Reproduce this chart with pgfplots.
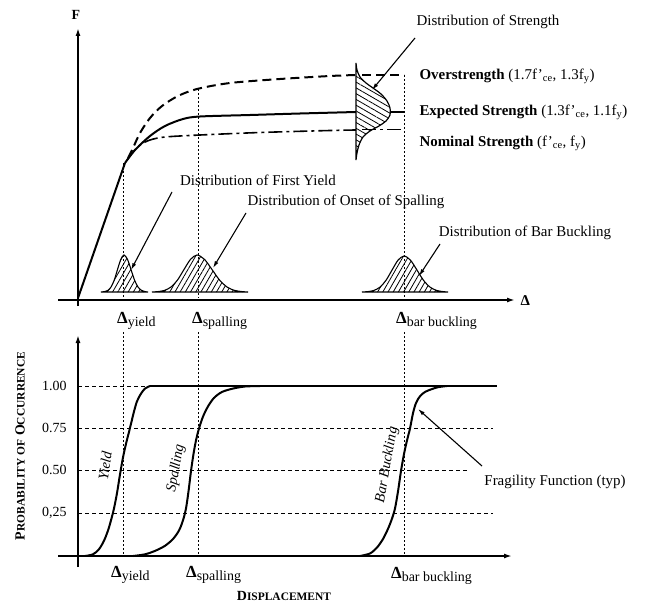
\documentclass[border=0pt]{standalone}
\usepackage{pgfplots}
\usepackage{pgfplotstable}
\pgfplotsset{compat=1.18}
\usepackage{fontspec}
\setmainfont{Liberation Serif}
\usetikzlibrary{arrows.meta,patterns.meta}

\newcommand\dlab[1]{\textbf{\fontsize{17}{17}\selectfont Δ}\raisebox{-0.45ex}{\fontsize{14}{14}\selectfont #1}}
\newcommand\scp[2]{{\fontsize{14}{14}\selectfont #1}{\fontsize{11.5}{11.5}\selectfont #2}}

% fragility curves: x in drawing units, p = probability
\pgfplotstableread{
x p
85 0
93 0.01
99 0.04
104 0.09
108 0.15
111 0.21
114 0.28
117 0.37
120 0.48
123 0.58
126 0.66
129 0.73
131.5 0.79
134 0.85
137 0.91
141 0.955
145 0.985
150 1
}\yieldcurve
\pgfplotstableread{
x p
133 0
145 0.01
155 0.03
165 0.06
173 0.1
179 0.15
183 0.21
186 0.28
188.5 0.38
191 0.5
193.5 0.6
196 0.68
199 0.75
203 0.82
208 0.88
214 0.93
222 0.965
233 0.985
245 0.997
260 1
}\spallcurve
\pgfplotstableread{
x p
360 0
370 0.015
377 0.05
383 0.1
388 0.16
392 0.22
395 0.28
398 0.38
401 0.5
404 0.6
407 0.68
410 0.75
413 0.84
416 0.9
420 0.94
425 0.965
431 0.98
438 0.993
447 1
}\buckcurve

\begin{document}
\begin{tikzpicture}[font=\fontsize{15}{18}\selectfont]
\begin{axis}[
  scale only axis, width=647bp, height=604bp,
  xmin=0, xmax=647, ymin=0, ymax=604, y dir=reverse,
  hide axis, clip=false,
]
% ===== top panel: axes =====
\addplot[line width=1.6bp, -{Latex[length=8bp,width=5bp]}] coordinates {(78,306) (78,28)};
\addplot[line width=1.6bp, -{Latex[length=8bp,width=5bp]}] coordinates {(58,300) (515,300)};
\node[font=\bfseries\fontsize{14}{14}\selectfont] at (axis cs:76,15) {F};
\node[font=\bfseries\fontsize{15}{15}\selectfont, anchor=west] at (axis cs:517,301) {Δ};

% dotted vertical guides (top)
\addplot[line width=0.9bp, dash pattern=on 2bp off 2bp] coordinates {(123.5,163) (123.5,298)};
\addplot[line width=0.9bp, dash pattern=on 2bp off 2bp] coordinates {(198,89) (198,298)};
\addplot[line width=0.9bp, dash pattern=on 2bp off 2bp] coordinates {(404,75) (404,298)};

% expected strength (solid)
\addplot[line width=2bp] coordinates {(78,298) (125,163)};
\addplot[line width=2bp, smooth] coordinates {(125,163) (135,150) (150,136) (165,126) (183,119) (200,116.5) (250,115) (300,113.5) (356,112)};
\addplot[line width=2bp] coordinates {(390,112) (405,112)};
% overstrength (dashed)
\addplot[line width=2bp, dash pattern=on 9bp off 5bp, smooth] coordinates {(128,158) (133,148) (140,133) (150,118) (162,106) (178,96) (197,89) (230,83) (280,79) (330,76) (356,75)};
\addplot[line width=2bp, dash pattern=on 9bp off 5bp] coordinates {(362,75) (404,75)};
% nominal strength (dash-dot)
\addplot[line width=1.6bp, dash pattern=on 14bp off 4bp on 3bp off 4bp, smooth] coordinates {(127,160) (133,152) (140,145) (150,140) (165,137) (200,135) (260,132.5) (330,130.5) (356,130)};
\addplot[line width=1.6bp, dash pattern=on 14bp off 4bp on 3bp off 4bp] coordinates {(362,129.5) (404,129.5)};

% distribution of strength
\addplot[line width=1.2bp, smooth, pattern={Lines[angle=-30,distance=5bp,line width=0.8bp]}] coordinates {(356,63) (357,70) (360,77) (366,83) (373,88) (381,94) (387,101) (390,108) (390,115) (386,121) (379,126) (370,131) (363,137) (359,145) (357,153) (356,160)} -- cycle;

% distribution of first yield
\addplot[line width=1.1bp, smooth, pattern={Lines[angle=60,distance=4.5bp,line width=0.8bp]}] coordinates {(101,292) (104.5,291.6) (108,290.4) (111,287) (114.3,280) (117.5,269.5) (120.8,259.4) (124,255) (127.5,259.4) (131,269.5) (134.5,280) (138,287) (141.5,290.4) (145,291.6) (148,292)} -- cycle;
% distribution of onset of spalling
\addplot[line width=1.1bp, smooth, pattern={Lines[angle=60,distance=4.5bp,line width=0.8bp]}] coordinates {(152,292) (158,291.6) (164.5,290.4) (171,287) (177.5,280) (184,269.5) (190.5,259.4) (197,255) (204.5,259.4) (212,269.5) (219.5,280) (227,287) (234.5,290.4) (242,291.6) (248,292)} -- cycle;
% distribution of bar buckling
\addplot[line width=1.1bp, smooth, pattern={Lines[angle=60,distance=4.5bp,line width=0.8bp]}] coordinates {(362,292) (368,291.6) (374,290.4) (380,287.1) (386,280.3) (392,270.1) (398,260.2) (404,256) (410.5,260.2) (417,270.1) (423.5,280.3) (430,287.1) (436.5,290.4) (443,291.6) (448,292)} -- cycle;

% annotation arrows (top)
\addplot[line width=1.1bp, -{Latex[length=7bp,width=4bp]}] coordinates {(415,38) (372,90)};
\addplot[line width=1.1bp, -{Latex[length=7bp,width=4bp]}] coordinates {(172,192) (131,270)};
\addplot[line width=1.1bp, -{Latex[length=7bp,width=4bp]}] coordinates {(246,213) (213,268)};
\addplot[line width=1.1bp, -{Latex[length=7bp,width=4bp]}] coordinates {(440,244) (419,276)};

% texts (top)
\node at (axis cs:488,22) {Distribution of Strength};
\node[anchor=west] at (axis cs:416,76) {\textbf{Overstrength} (1.7f'\textsubscript{ce}, 1.3f\textsubscript{y})};
\node[anchor=west] at (axis cs:416,112) {\textbf{Expected Strength} (1.3f'\textsubscript{ce}, 1.1f\textsubscript{y})};
\node[anchor=west] at (axis cs:416,143) {\textbf{Nominal Strength} (f'\textsubscript{ce}, f\textsubscript{y})};
\node at (axis cs:258,180) {Distribution of First Yield};
\node at (axis cs:346,202) {Distribution of Onset of Spalling};
\node at (axis cs:525,233) {Distribution of Bar Buckling};

% delta labels between panels
\node[anchor=west, inner sep=0pt] at (axis cs:117,321) {\dlab{yield}};
\node[anchor=west, inner sep=0pt] at (axis cs:192,321) {\dlab{spalling}};
\node[anchor=west, inner sep=0pt] at (axis cs:396,321) {\dlab{bar buckling}};

% ===== bottom panel =====
\addplot[line width=1.6bp, -{Latex[length=8bp,width=5bp]}] coordinates {(78,567) (78,335)};
\addplot[line width=1.6bp, -{Latex[length=8bp,width=5bp]}] coordinates {(58,556) (512,556)};

% dashed probability levels
\addplot[line width=0.9bp, dash pattern=on 4bp off 3bp] coordinates {(78,386) (150,386)};
\addplot[line width=0.9bp, dash pattern=on 4bp off 3bp] coordinates {(78,428) (493,428)};
\addplot[line width=0.9bp, dash pattern=on 4bp off 3bp] coordinates {(78,470) (467,470)};
\addplot[line width=0.9bp, dash pattern=on 4bp off 3bp] coordinates {(78,513) (493,513)};
\addplot[line width=2bp] coordinates {(150,386) (497,386)};

% dotted vertical guides (bottom)
\addplot[line width=0.9bp, dash pattern=on 2bp off 2bp] coordinates {(123.5,332) (123.5,556)};
\addplot[line width=0.9bp, dash pattern=on 2bp off 2bp] coordinates {(198,332) (198,556)};
\addplot[line width=0.9bp, dash pattern=on 2bp off 2bp] coordinates {(404,332) (404,556)};

% fragility curves
\addplot[line width=2bp, smooth] table[x=x, y expr={556-170*\thisrow{p}}] {\yieldcurve};
\addplot[line width=2bp, smooth] table[x=x, y expr={556-170*\thisrow{p}}] {\spallcurve};
\addplot[line width=2bp, smooth] table[x=x, y expr={556-170*\thisrow{p}}] {\buckcurve};

% tick labels
\node[anchor=east, font=\fontsize{14}{14}\selectfont] at (axis cs:70,386) {1.00};
\node[anchor=east, font=\fontsize{14}{14}\selectfont] at (axis cs:70,428) {0.75};
\node[anchor=east, font=\fontsize{14}{14}\selectfont] at (axis cs:70,470) {0.50};
\node[anchor=east, font=\fontsize{14}{14}\selectfont] at (axis cs:70,513) {0,25};

% curve labels
\node[rotate=82, inner sep=1pt, font=\itshape\fontsize{14.5}{14.5}\selectfont] at (axis cs:105,466) {Yield};
\node[rotate=80, inner sep=1pt, font=\itshape\fontsize{14.5}{14.5}\selectfont] at (axis cs:176,468) {Spalling};
\node[rotate=80, inner sep=1pt, font=\itshape\fontsize{14.5}{14.5}\selectfont] at (axis cs:387,465) {Bar Buckling};

% fragility arrow + label
\addplot[line width=1.1bp, -{Latex[length=7bp,width=4bp]}] coordinates {(482,466) (418,409)};
\node at (axis cs:555,482) {Fragility Function (typ)};

% bottom delta labels
\node[anchor=west, inner sep=0pt] at (axis cs:111,575) {\dlab{yield}};
\node[anchor=west, inner sep=0pt] at (axis cs:186,575) {\dlab{spalling}};
\node[anchor=west, inner sep=0pt] at (axis cs:391,576) {\dlab{bar buckling}};

% axis titles
\node[rotate=90] at (axis cs:20,446) {\bfseries\scp{P}{ROBABILITY OF} \scp{O}{CCURRENCE}};
\node at (axis cs:284,596) {\bfseries\scp{D}{ISPLACEMENT}};
\end{axis}
\pgfresetboundingbox
\path (current axis.south west) rectangle (current axis.north east);
\end{tikzpicture}
\end{document}
